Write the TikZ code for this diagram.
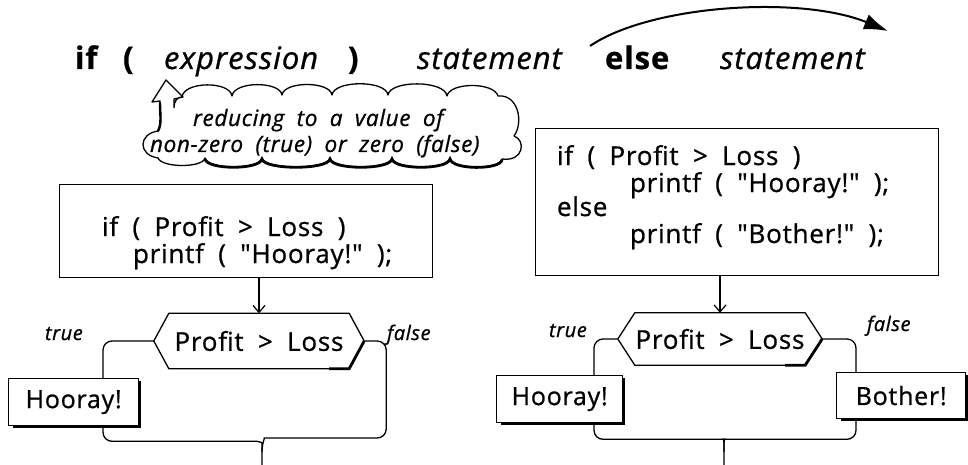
\documentclass[tikz,border=0pt]{standalone}
\usepackage{fontspec}
\setmainfont{Open Sans}
\newfontfamily\hand[WordSpace=1.9,LetterSpace=3,FakeBold=0.8]{Open Sans}
\usetikzlibrary{calc,arrows.meta}
\begin{document}
\begin{tikzpicture}[x=1pt,y=-1pt,
  txt/.style={anchor=base west,inner sep=0pt,outer sep=0pt},
  ttl/.style={txt,font=\fontsize{31}{34}\selectfont\hand\bfseries},
  ttli/.style={txt,font=\fontsize{31}{34}\selectfont\hand\itshape},
  cloudtxt/.style={txt,font=\fontsize{22.5}{25}\selectfont\hand\itshape},
  codetxt/.style={txt,font=\fontsize{26}{28}\selectfont\hand},
  lbl/.style={txt,font=\fontsize{20}{22}\selectfont\hand\itshape},
  codebox/.style={draw,line width=1.4pt,inner sep=0pt,anchor=north west},
  outbox/.style={draw,line width=1.3pt,inner sep=0pt,anchor=north west,
    font=\fontsize{25}{28}\selectfont\hand},
  hextxt/.style={inner sep=0pt,font=\fontsize{26}{28}\selectfont\hand},
  wire/.style={line width=1.3pt,rounded corners=9pt},
  shade/.style={line width=2.8pt},
  down/.style={line width=1.2pt,-{Straight Barb[length=7pt,width=12pt,line width=1.2pt]}}
]
\useasboundingbox (0,0) rectangle (968,465);

% ---------- title line ----------
\node[ttl]  (tif)   at (75,69)  {if};
\node[ttl]  (tlp)   at (123,69) {(};
\node[ttli] (texp)  at (164,69) {expression};
\node[ttl]  (trp)   at (348,69) {)};
\node[ttli] (tst1)  at (417,69) {statement};
\node[ttl]  (telse) at (605,69) {else};
\node[ttli] (tst2)  at (720,69) {statement};
\coordinate (arcS) at (590,46);
\coordinate (arcE) at (888,31);
\draw[line width=2pt,-{Latex[length=24pt,width=16pt]}]
  (arcS) .. controls (650,5) and (800,-5) .. (arcE);

% ---------- cloud ----------
\draw[line width=1.3pt,line join=round]
  (174,108) .. controls (174,100) and (178,97) .. (182,97)
  .. controls (184,81) and (230,81) .. (232,96)
  .. controls (234,81) and (280,81) .. (282,95)
  .. controls (284,81) and (330,81) .. (332,95)
  .. controls (334,80) and (386,80) .. (388,95)
  .. controls (390,80) and (445,80) .. (447,96)
  .. controls (450,82) and (494,82) .. (498,96)
  .. controls (518,94) and (524,122) .. (514,136)
  .. controls (526,140) and (524,162) .. (502,159)
  .. controls (500,170) and (452,170) .. (450,158)
  .. controls (448,170) and (394,170) .. (392,158)
  .. controls (390,170) and (332,170) .. (330,158)
  .. controls (328,170) and (264,170) .. (262,158)
  .. controls (260,170) and (207,170) .. (205,158)
  .. controls (203,168) and (162,168) .. (158,158)
  .. controls (138,155) and (138,134) .. (158,131)
  .. controls (162,125) and (160,112) .. (160,101)
  -- (152,102) -- (166,80) -- (183,97) -- (174,99) -- (174,108);
\draw[shade,line cap=round]
  (502,160) .. controls (500,170) and (452,170) .. (450,159)
  .. controls (448,170) and (394,170) .. (392,159)
  .. controls (390,170) and (332,170) .. (330,159)
  .. controls (328,170) and (264,170) .. (262,159)
  .. controls (260,170) and (207,170) .. (205,159);
\draw[line width=2.4pt,line cap=round] (160,103) .. controls (160,114) and (162,124) .. (158,131);
\node[cloudtxt] (cl1) at (193,126) {reducing to a value of};
\node[cloudtxt] (cl2) at (150,152) {non-zero (true) or zero (false)};

% ---------- left: if ----------
\node[codebox,minimum width=373pt,minimum height=93pt] (codeL) at (59,184) {};
\node[codetxt] (cL1) at (102,236) {if ( Profit > Loss )};
\node[codetxt] (cL2) at (133,263) {printf ( "Hooray!" );};

\node[hextxt,minimum width=180pt,minimum height=55pt] (hexL) at (259,341) {Profit > Loss};
\coordinate (hexLw) at ($(hexL.west)+(-15,0)$);
\coordinate (hexLe) at ($(hexL.east)+(15,0)$);
\draw[line width=1.3pt,line join=round] (hexLw) -- (hexL.north west) -- (hexL.north east)
  -- (hexLe) -- (hexL.south east) -- (hexL.south west) -- cycle;
\draw[shade] (hexLe) -- (hexL.south east) -- ++(-20,0);
\draw[down] (codeL.south -| hexL.north) -- (hexL.north);

\node[lbl] (trueL)  at (45,340)  {true};
\node[lbl] (falseL) at (387,340) {false};

\node[outbox,minimum width=130pt,minimum height=47pt] (hoorL) at (8,378) {Hooray!};
\draw[shade] ($(hoorL.north east)+(0,3)$) -- (hoorL.south east) -- ++(-126,0);
\coordinate (brL) at (262,465);
\draw[wire] (hexLw) -| ($(hoorL.north west)+(95,0)$);
\draw[wire] ($(hoorL.south west)+(95,0)$) -- ++(0,15) -- ++(145,0)
  .. controls ++(8,0) and ++(0,-10) .. ($(brL)+(0,-13)$) -- (brL);
\draw[wire] (hexLe) -- ++(22,0) -- ++(0,97) -- ++(-113,0)
  .. controls ++(-8,0) and ++(0,-10) .. ($(brL)+(0,-13)$);

% ---------- right: if-else ----------
\node[codebox,minimum width=403pt,minimum height=147pt] (codeR) at (535,128) {};
\node[codetxt] (cR1) at (557,165) {if ( Profit > Loss )};
\node[codetxt] (cR2) at (630,192) {printf ( "Hooray!" );};
\node[codetxt] (cR3) at (557,216) {else};
\node[codetxt] (cR4) at (630,243) {printf ( "Bother!" );};

\node[hextxt,minimum width=170pt,minimum height=52pt] (hexR) at (720,339) {Profit > Loss};
\coordinate (hexRw) at ($(hexR.west)+(-17,0)$);
\coordinate (hexRe) at ($(hexR.east)+(17,0)$);
\draw[line width=1.3pt,line join=round] (hexRw) -- (hexR.north west) -- (hexR.north east)
  -- (hexRe) -- (hexR.south east) -- (hexR.south west) -- cycle;
\draw[shade] (hexRe) -- (hexR.south east) -- ++(-20,0);
\draw[down] (codeR.south -| hexR.north) -- (hexR.north);

\node[lbl] (trueR)  at (549,337) {true};
\node[lbl] (falseR) at (867,331) {false};

\node[outbox,minimum width=126pt,minimum height=47pt] (hoorR) at (496,375) {Hooray!};
\draw[shade] ($(hoorR.north east)+(0,3)$) -- (hoorR.south east) -- ++(-122,0);
\node[outbox,minimum width=129pt,minimum height=46pt] (both) at (836,372) {Bother!};
\draw[shade] ($(both.north east)+(0,3)$) -- (both.south east) -- ++(-125,0);
\coordinate (brR) at (724,465);
\draw[wire] (hexRw) -| ($(hoorR.north west)+(98,0)$);
\draw[wire] (hexRe) -| ($(both.north west)+(20,0)$);
\draw[wire] ($(hoorR.south west)+(98,0)$) -- ++(0,16) -- ++(122,0)
  .. controls ++(8,0) and ++(0,-10) .. ($(brR)+(0,-13)$) -- (brR);
\draw[wire] ($(both.south west)+(20,0)$) -- ++(0,20) -- ++(-124,0)
  .. controls ++(-8,0) and ++(0,-10) .. ($(brR)+(0,-13)$);
\end{tikzpicture}
\end{document}
